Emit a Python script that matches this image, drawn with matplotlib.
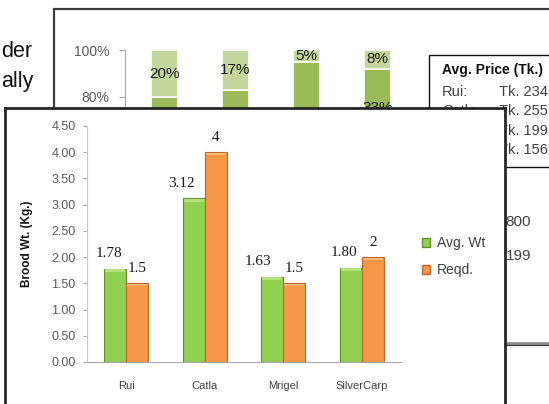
import matplotlib.pyplot as plt
from matplotlib.patches import Rectangle, Patch
from matplotlib.lines import Line2D
import numpy as np

# front chart: brood weight
species = ['Rui', 'Catla', 'Mrigel', 'SilverCarp']
avg_wt = [1.78, 3.12, 1.63, 1.80]
reqd_wt = [1.5, 4, 1.5, 2]
avg_labels = ['1.78', '3.12', '1.63', '1.80']
reqd_labels = ['1.5', '4', '1.5', '2']
y_ticks = [0.0, 0.5, 1.0, 1.5, 2.0, 2.5, 3.0, 3.5, 4.0, 4.5]

# chart behind it (mostly hidden)
bg_top = [20, 17, 5, 8]
bg_mid = [43, 50, 47, 33]
bg_ticks = [0, 20, 40, 60, 80, 100]
price_names = ['Rui:', 'Catla:', 'Mrigel:', 'Silver:']
price_values = [234, 255, 199, 156]

W, H = 549, 404
SANS = 'Liberation Sans'


def box(x0, y0, x1, y1):
    # pixel box (top-left origin) -> figure fraction rect
    return [x0 / W, 1 - y1 / H, (x1 - x0) / W, (y1 - y0) / H]


def fx(x):
    return x / W


def fy(y):
    return 1 - y / H


fig = plt.figure(figsize=(W / 100, H / 100), dpi=100)
fig.patch.set_facecolor('white')

# ---- background slide bits ----
fig.text(fx(1), fy(57), 'der', ha='left', va='baseline', fontsize=15.5,
         family=SANS, color='#111111')
fig.text(fx(1), fy(87), 'ally', ha='left', va='baseline', fontsize=15.5,
         family=SANS, color='#111111')

fig.add_artist(Rectangle((fx(54), fy(345)), fx(700) - fx(54), fy(9) - fy(345),
                         transform=fig.transFigure, fill=False,
                         edgecolor='#3c3c3c', lw=1.6, zorder=0.5))
fig.add_artist(Line2D([fx(54), fx(700)], [fy(342.5), fy(342.5)],
                      transform=fig.transFigure, color='#8c8c8c', lw=2, zorder=0.6))

bg = fig.add_axes(box(125, 50, 413, 285), zorder=1)
bx = np.arange(len(bg_top))
bg_bot = [100 - t - m for t, m in zip(bg_top, bg_mid)]
bw = 0.38
bg.bar(bx, bg_bot, bw, color='#77933c', edgecolor='white', lw=1.2)
bg.bar(bx, bg_mid, bw, bottom=bg_bot, color='#9bbb59', edgecolor='white', lw=1.2)
bg.bar(bx, bg_top, bw, bottom=[100 - t for t in bg_top], color='#c3d69b',
       edgecolor='white', lw=1.2)
for i in range(len(bg_top)):
    bg.text(bx[i], 100 - bg_top[i] / 2, f'{bg_top[i]}%', ha='center', va='center',
            fontsize=11, family=SANS, color='#1a1a1a')
    bg.text(bx[i], bg_bot[i] + bg_mid[i] / 2, f'{bg_mid[i]}%', ha='center',
            va='center', fontsize=11, family=SANS, color='#1a1a1a')
bg.set_xlim(-0.55, 3.5)
bg.set_ylim(0, 100)
bg.set_yticks(bg_ticks)
bg.set_yticklabels([f'{t}%' for t in bg_ticks], fontsize=10, family=SANS,
                   color='#595959')
bg.set_xticks([])
bg.tick_params(axis='y', length=4, color='#a6a6a6', pad=7)
for s in ['top', 'right', 'bottom']:
    bg.spines[s].set_visible(False)
bg.spines['left'].set_color('#a6a6a6')
bg.patch.set_alpha(0)

# price box
fig.add_artist(Rectangle((fx(429), fy(167)), fx(700) - fx(429), fy(55) - fy(167),
                         transform=fig.transFigure, facecolor='white',
                         edgecolor='#111111', lw=1, zorder=1.5))
fig.text(fx(442), fy(70), 'Avg. Price (Tk.)', ha='left', va='center',
         fontsize=10, weight='bold', family=SANS, color='#111111', zorder=2)
for i, (nm, val) in enumerate(zip(price_names, price_values)):
    yy = 92 + i * 19.3
    fig.text(fx(442), fy(yy), nm, ha='left', va='center', fontsize=10.5,
             family=SANS, color='#404040', zorder=2)
    fig.text(fx(548), fy(yy), f'Tk. {val}', ha='right', va='center',
             fontsize=10.5, family=SANS, color='#404040', zorder=2)

fig.text(fx(531), fy(222), '800', ha='right', va='center', fontsize=11,
         family=SANS, color='#404040', zorder=2)
fig.text(fx(531), fy(256), '199', ha='right', va='center', fontsize=11,
         family=SANS, color='#404040', zorder=2)

# ---- front chart panel ----
panel = fig.add_axes(box(5, 108, 505, 430), zorder=5)
panel.set_xticks([])
panel.set_yticks([])
for s in panel.spines.values():
    s.set_color('#262626')
    s.set_linewidth(2)

ax = fig.add_axes(box(87, 126, 401, 362), zorder=6)
ax.patch.set_alpha(0)
x = np.arange(len(species))
w = 0.28
ax.bar(x - w / 2, avg_wt, w, color='#92d050', edgecolor='#5f8f2a', lw=0.8)
ax.bar(x + w / 2, reqd_wt, w, color='#f79646', edgecolor='#b8682a', lw=0.8)
# light bevel strip on top of each bar
ax.bar(x - w / 2, [0.05] * 4, w * 0.9, bottom=[v - 0.06 for v in avg_wt],
       color='#b7e37f', lw=0)
ax.bar(x + w / 2, [0.05] * 4, w * 0.9, bottom=[v - 0.06 for v in reqd_wt],
       color='#fbb879', lw=0)

avg_label_nudge = [-6, -12, -14, -7]
for i in range(len(species)):
    ax.annotate(avg_labels[i], (x[i] - w / 2, avg_wt[i]),
                xytext=(avg_label_nudge[i], 15), textcoords='offset pixels',
                ha='center', va='center', fontsize=11, family='Liberation Serif',
                color='#1a1a1a')
    ax.annotate(reqd_labels[i], (x[i] + w / 2, reqd_wt[i]),
                xytext=(0, 15), textcoords='offset pixels',
                ha='center', va='center', fontsize=11, family='Liberation Serif',
                color='#1a1a1a')

ax.set_xlim(-0.5, 3.5)
ax.set_ylim(0, 4.5)
ax.set_yticks(y_ticks)
ax.set_yticklabels([f'{t:.2f}' for t in y_ticks], fontsize=9, family=SANS,
                   color='#595959')
ax.set_xticks(x)
ax.set_xticklabels(species, fontsize=8, family=SANS, color='#404040')
ax.tick_params(axis='y', length=3.2, color='#a6a6a6', pad=5)
ax.tick_params(axis='x', length=0, pad=14)
ax.spines['top'].set_visible(False)
ax.spines['right'].set_visible(False)
ax.spines['left'].set_color('#c8c8c8')
ax.spines['bottom'].set_color('#a6a6a6')
ax.set_ylabel('Brood Wt. (Kg.)', fontsize=8.5, weight='bold', family=SANS,
              color='#111111')
ax.yaxis.set_label_coords((33 - 87) / 314, 0.5)

handles = [Patch(facecolor='#92d050', edgecolor='#5f8f2a', label='Avg. Wt'),
           Patch(facecolor='#f79646', edgecolor='#b8682a', label='Reqd.')]
leg = ax.legend(handles=handles, loc='upper left', bbox_to_anchor=(fx(422), fy(236)),
                bbox_transform=fig.transFigure, frameon=False,
                prop={'family': SANS, 'size': 10}, handlelength=0.6,
                handleheight=0.6, handletextpad=0.5, labelspacing=0.95,
                borderpad=0, borderaxespad=0)
for t in leg.get_texts():
    t.set_color('#404040')

fig.savefig('out.png', dpi=100)
